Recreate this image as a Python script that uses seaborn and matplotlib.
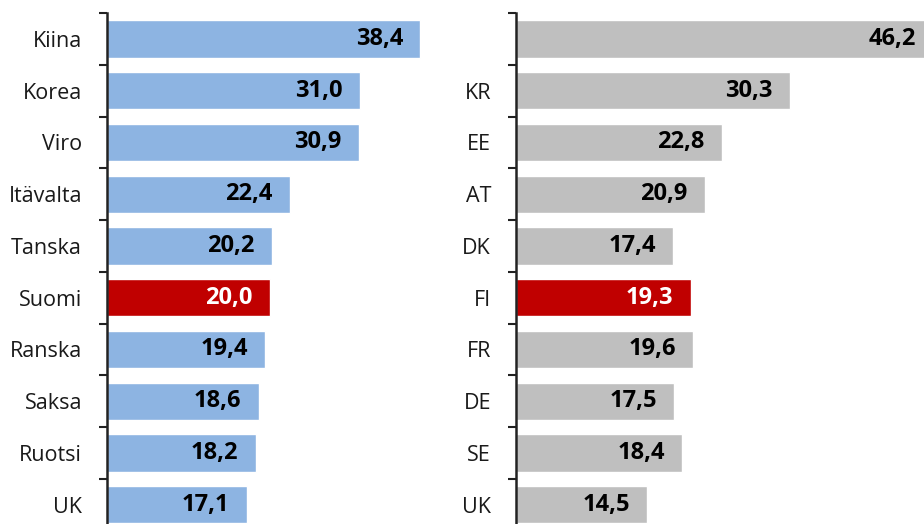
import numpy as np
import seaborn as sns
from matplotlib import pyplot

maat = ['Kiina', 'Korea', 'Viro', 'Itävalta', 'Tanska', 'Suomi', 'Ranska', 'Saksa', 'Ruotsi', 'UK']
arvot_vasen = [38.4, 31.0, 30.9, 22.4, 20.2, 20.0, 19.4, 18.6, 18.2, 17.1]
koodit = ['', 'KR', 'EE', 'AT', 'DK', 'FI', 'FR', 'DE', 'SE', 'UK']
arvot_oikea = [46.2, 30.3, 22.8, 20.9, 17.4, 19.3, 19.6, 17.5, 18.4, 14.5]

sinine = '#8DB4E2'
harmaa = '#BFBFBF'
puna = '#C00000'

sns.set_theme(style="white")
pyplot.rcParams['font.family'] = ['Open Sans', 'DejaVu Sans']

fig = pyplot.figure(figsize=(9.24, 5.24), dpi=100)
W, H = 924, 524
top_px, bot_px = 13, 530.6
# oikea paneeli jatkuu kuvan reunan yli (alkuperäinen on rajattu)
ax1 = fig.add_axes([107 / W, (H - bot_px) / H, 342.7 / W, (bot_px - top_px) / H])
ax2 = fig.add_axes([516 / W, (H - bot_px) / H, 435 / W, (bot_px - top_px) / H])


def piirra(ax, labels, vals, base, xmax):
    cols = [puna if l in ('Suomi', 'FI') else base for l in labels]
    ids = [str(i) for i in range(len(labels))]
    sns.barplot(x=vals, y=ids, hue=ids, palette=cols, legend=False,
                width=0.72, ax=ax, saturation=1, orient='h')
    ax.set_xlim(0, xmax)
    ax.set_ylim(9.5, -0.5)
    ax.set_yticks(range(len(labels)))
    ax.set_yticklabels(labels, fontsize=15.5, color='#1a1a1a')
    ax.set_yticks(np.arange(-0.5, 10, 1), minor=True)
    ax.tick_params(axis='y', which='major', length=0, pad=18)
    ax.tick_params(axis='y', which='minor', length=6, width=1.5, color='#222222', left=True)
    ax.set_xticks([])
    ax.set_xlabel('')
    ax.set_ylabel('')
    for s in ['top', 'right', 'bottom']:
        ax.spines[s].set_visible(False)
    ax.spines['left'].set_color('#222222')
    ax.spines['left'].set_linewidth(1.8)
    for i, v in enumerate(vals):
        c = 'white' if cols[i] == puna else 'black'
        ax.annotate(f"{v:.1f}".replace('.', ','), (v, i), xytext=(-12.5, 0),
                    textcoords='offset points', ha='right', va='center',
                    fontsize=17, fontweight='bold', color=c, annotation_clip=False)


piirra(ax1, maat, arvot_vasen, sinine, 42)
piirra(ax2, koodit, arvot_oikea, harmaa, 48.1)

fig.savefig('out.png', dpi=100)
